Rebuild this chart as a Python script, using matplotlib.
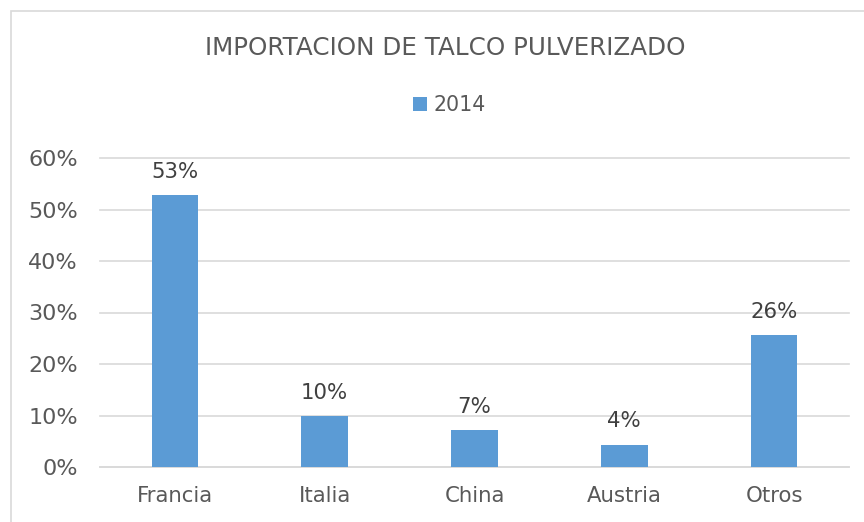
"""
Bar chart: importacion de talco pulverizado 2014
"""

import matplotlib
matplotlib.use('Agg')

import matplotlib.pyplot as plt
from matplotlib.patches import Rectangle
from matplotlib.ticker import PercentFormatter

categories = ['Francia', 'Italia', 'China', 'Austria', 'Otros']
shares_2014 = [0.528, 0.099, 0.072, 0.043, 0.256]
series_label = '2014'
title = 'IMPORTACION DE TALCO PULVERIZADO'

BLUE = '#5B9BD5'
TEXT = '#595959'
GRID = '#D9D9D9'


def main():
    plt.rcParams['font.family'] = ['DejaVu Sans']
    fig = plt.figure(figsize=(8.64, 5.22), dpi=100)

    # chart frame (cropped on the right and bottom)
    fig.patches.append(Rectangle((11/864, -0.1), 1.2, 1 - 11/522 + 0.1,
                                 transform=fig.transFigure, fill=False,
                                 edgecolor=GRID, linewidth=1.2))

    ax = fig.add_axes([100/864, 1 - 467/522, 749/864, (467 - 158)/522])
    x = range(len(categories))
    bars = ax.bar(x, shares_2014, width=0.31, color=BLUE, label=series_label,
                  zorder=3)

    for b, v in zip(bars, shares_2014):
        ax.text(b.get_x() + b.get_width()/2, v + 0.026, f'{round(v*100)}%',
                ha='center', va='bottom', fontsize=15.3, color='#404040')

    ax.set_xlim(-0.5, len(categories) - 0.5)
    ax.set_ylim(0, 0.6)
    ax.set_yticks([0, 0.1, 0.2, 0.3, 0.4, 0.5, 0.6])
    ax.yaxis.set_major_formatter(PercentFormatter(1.0, decimals=0))
    ax.set_xticks(list(x))
    ax.set_xticklabels(categories)
    ax.tick_params(axis='both', length=0, labelcolor=TEXT)
    ax.tick_params(axis='x', pad=14, labelsize=15.3)
    ax.tick_params(axis='y', pad=16, labelsize=16)
    ax.grid(axis='y', color=GRID, linewidth=1.2, zorder=0)
    for line in ax.get_ygridlines():
        line.set_clip_on(False)  # keep the 60% line full width at the top edge
    for s in ['top', 'right', 'left']:
        ax.spines[s].set_visible(False)
    ax.spines['bottom'].set_color(GRID)
    ax.spines['bottom'].set_linewidth(1.2)

    fig.text(445/864, 1 - 48/522, title, ha='center', va='center',
             fontsize=17.7, color=TEXT)
    fig.legend(loc='center', bbox_to_anchor=(449/864, 1 - 105/522),
               frameon=False, fontsize=14.8, labelcolor=TEXT,
               handlelength=0.7, handleheight=0.7, handletextpad=0.3)

    fig.savefig('out.png', dpi=100)


if __name__ == "__main__":
    main()
